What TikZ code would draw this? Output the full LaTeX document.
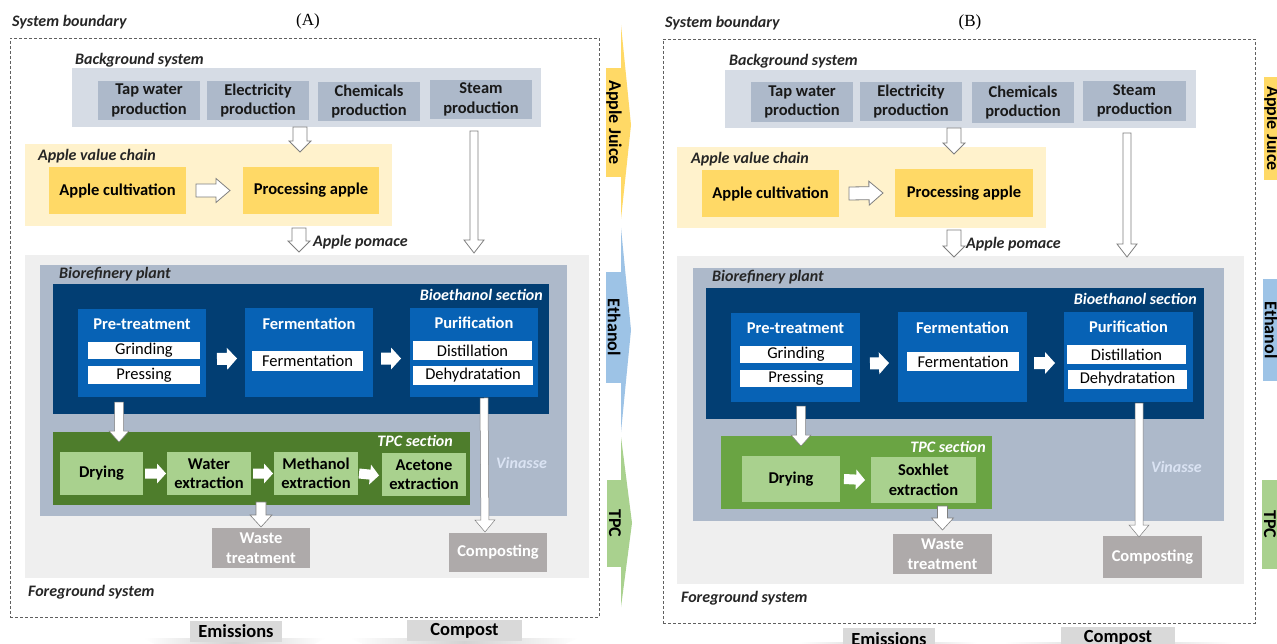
\documentclass[tikz,border=0pt]{standalone}
\usepackage{fontspec}
\setmainfont{Carlito}
\newfontfamily\serifA{Liberation Serif}
\usetikzlibrary{calc}
\definecolor{bgbox}{HTML}{D6DCE5}
\definecolor{bgsub}{HTML}{ADB9CA}
\definecolor{avc}{HTML}{FFF2CC}
\definecolor{apple}{HTML}{FFD966}
\definecolor{fgc}{HTML}{EFEFEF}
\definecolor{bioc}{HTML}{ADB9CA}
\definecolor{ethc}{HTML}{023E73}
\definecolor{bluc}{HTML}{0762B5}
\definecolor{tpcAc}{HTML}{4E7D2C}
\definecolor{tpcBc}{HTML}{6AA443}
\definecolor{tpcbox}{HTML}{A9D18E}
\definecolor{wastec}{HTML}{AEAAAA}
\definecolor{lbl}{HTML}{262626}
\definecolor{arrgray}{HTML}{7F7F7F}
\definecolor{ajc}{HTML}{FFD966}
\definecolor{etc}{HTML}{9DC3E6}
\definecolor{tpcc}{HTML}{A9D18E}
\definecolor{vin}{HTML}{DAE3F3}
\definecolor{outc}{HTML}{D9D9D9}
\newcommand\fs{\fontsize{16.5}{19.5}\selectfont}
\newcommand\fl{\fontsize{16}{19}\selectfont\bfseries\itshape}
\tikzset{
  base/.style={inner sep=0pt, outer sep=0pt, align=center, font=\fs},
  corners/.style n args={4}{minimum width={#3-#1}, minimum height={#4-#2}, at={({(#1+#3)/2},{(#2+#4)/2})}},
  bound/.style={base, draw=gray!75!black, dash pattern=on 3pt off 2pt, line width=0.8pt},
  bgbx/.style={base, fill=bgbox},
  bgsb/.style={base, fill=bgsub, text=black!90, font=\fs\bfseries},
  avcbx/.style={base, fill=avc},
  applebx/.style={base, fill=apple, font=\fs\bfseries},
  fgbx/.style={base, fill=fgc},
  biobx/.style={base, fill=bioc},
  ethbx/.style={base, fill=ethc},
  blubx/.style={base, fill=bluc},
  barbx/.style={base, fill=white},
  ttl/.style={base, text=white, font=\fs\bfseries},
  greenbx/.style={base, fill=tpcbox, font=\fs\bfseries},
  graybx/.style={base, fill=wastec, text=white, font=\fs\bfseries},
  lab/.style={inner sep=0pt, font=\fl, text=lbl},
  tagbx/.style={base, font=\fontsize{18}{20}\selectfont\bfseries, text=black},
  outbx/.style={base, fill=outc, font=\fontsize{18.5}{20}\selectfont\bfseries, text=black},
  hollow/.style={draw=arrgray, fill=white, line width=0.8pt},
  solidw/.style={fill=white},
  shaftw/.code={\def\blkS{#1}},
  headw/.code={\def\blkH{#1}},
  headl/.code={\def\blkL{#1}},
  blk/.style n args={3}{shaftw=#1, headw=#2, headl=#3, to path={
    let \p1=(\tikztostart), \p2=(\tikztotarget), \p3=($(\p2)!\blkL!(\p1)$) in
    ($(\p1)!\blkS!90:(\p2)$) -- ($(\p3)!\blkS!90:(\p2)$) -- ($(\p3)!\blkH!90:(\p2)$) -- (\p2)
    -- ($(\p3)!\blkH!-90:(\p2)$) -- ($(\p3)!\blkS!-90:(\p2)$) -- ($(\p1)!\blkS!-90:(\p2)$) -- cycle}},
}
\begin{document}
\begin{tikzpicture}[x=1pt,y=-1pt]
\clip (0,0) rectangle (1277,644);
\fill[white] (0,0) rectangle (1277,644);

% ================= PANEL A =================
\node[lab, anchor=west] (sbA) at (12,22) {System boundary};
\node[font=\serifA\fontsize{17}{20}\selectfont, inner sep=0pt] (tA) at (308,21) {(A)};
\node[bound, corners={10}{38}{599}{617}] (bdA) {};

\node[bgbx, corners={72}{68}{541}{127}] (bgA) {};
\node[lab, anchor=west] (bglA) at (75,60) {Background system};
\node[bgsb, corners={98}{81}{200}{120}] (tapA) {Tap water\\production};
\node[bgsb, corners={207}{81}{309}{120}] (elecA) {Electricity\\production};
\node[bgsb, corners={318}{82}{420}{121}] (chemA) {Chemicals\\production};
\node[bgsb, corners={430}{80}{532}{119}] (steamA) {Steam\\production};

\node[avcbx, corners={25}{144}{392}{226}] (avcA) {};
\node[lab, anchor=west] (avclA) at (38,156) {Apple value chain};
\node[applebx, corners={49}{167}{186}{214}] (cultA) {Apple cultivation};
\node[applebx, corners={243}{167}{379}{214}] (procA) {Processing apple};

\node[fgbx, corners={25}{255}{589}{578}] (fgA) {};
\node[lab, anchor=west] (fglA) at (28,592) {Foreground system};
\node[biobx, corners={40}{265}{567}{516}] (bioA) {};
\node[lab, anchor=west] (biolA) at (59,274) {Biorefinery plant};
\node[ethbx, corners={53}{284}{549}{414}] (ethA) {};
\node[lab, anchor=east, text=white] (ethlA) at (543,295) {Bioethanol section};

\node[blubx, corners={78}{309}{206}{397}] (preA) {};
\node[ttl] (pretA) at (142,324) {Pre-treatment};
\node[barbx, corners={88}{342}{200}{359}] (grindA) {Grinding};
\node[barbx, corners={88}{366}{200}{384}] (pressA) {Pressing};
\node[blubx, corners={245}{308}{373}{397}] (fermA) {};
\node[ttl] (fermtA) at (309,324) {Fermentation};
\node[barbx, corners={252}{351}{363}{371}] (fermbA) {Fermentation};
\node[blubx, corners={410}{308}{538}{397}] (purA) {};
\node[ttl] (purtA) at (474,323) {Purification};
\node[barbx, corners={413}{341}{532}{360}] (distA) {Distillation};
\node[barbx, corners={413}{366}{533}{385}] (dehyA) {Dehydratation};

\node[base, fill=tpcAc, corners={53}{432}{470}{505}] (tpcA) {};
\node[lab, anchor=east, text=white] (tpclA) at (453,441) {TPC section};
\node[greenbx, corners={60}{452}{143}{495}] (dryA) {Drying};
\node[greenbx, corners={167}{452}{251}{495}] (waterA) {Water\\extraction};
\node[greenbx, corners={274}{452}{358}{495}] (methA) {Methanol\\extraction};
\node[greenbx, corners={382}{453}{466}{496}] (acetA) {Acetone\\extraction};

\node[graybx, corners={212}{528}{310}{568}] (wasteA) {Waste\\treatment};
\node[graybx, corners={449}{533}{547}{572}] (compA) {Composting};
\node[lab, anchor=west, text=vin] (vinA) at (496,463) {Vinasse};
\node[lab, anchor=west] (pomA) at (313,242) {Apple pomace};

% arrows A
\path[hollow, blk={7pt}{11pt}{11pt}] ([xshift=-6.5pt]bgA.south) to ([xshift=-11pt,yshift=15pt]procA.north);
\path[hollow, blk={6.5pt}{12pt}{14pt}] ([xshift=10pt]cultA.east) to ([xshift=-13pt]procA.west);
\path[hollow, blk={7pt}{11pt}{11pt}] ([xshift=90.5pt,yshift=-2pt]avcA.south) to ([xshift=90.5pt,yshift=-26pt]avcA.south);
\path[hollow, blk={4pt}{10pt}{13pt}] ([xshift=-7pt,yshift=-12pt]steamA.south) to ([xshift=-7pt,yshift=-134pt]steamA.south);
\path[solidw, blk={6pt}{11pt}{10pt}] ([xshift=11pt,yshift=-6pt]preA.east) to ([xshift=-8pt,yshift=-6pt]fermA.west);
\path[solidw, blk={6pt}{11pt}{10pt}] ([xshift=8pt,yshift=-6pt]fermA.east) to ([xshift=-9pt,yshift=-6pt]purA.west);
\path[hollow, line width=0.5pt, blk={4.5pt}{10pt}{11pt}] ([xshift=-23pt,yshift=-5pt]preA.south) to ([xshift=-23pt,yshift=-45pt]preA.south);
\path[hollow, line width=0.5pt, blk={4pt}{10pt}{12pt}] ([xshift=10pt,yshift=-1pt]purA.south) to ([xshift=-13pt,yshift=1pt]compA.north);
\path[solidw, blk={5pt}{10pt}{9pt}] ([xshift=2pt]dryA.east) to ([xshift=-1pt]waterA.west);
\path[solidw, blk={5pt}{10pt}{9pt}] ([xshift=2pt]waterA.east) to ([xshift=-1pt]methA.west);
\path[solidw, blk={5pt}{10pt}{9pt}] ([xshift=1pt]methA.east) to ([xshift=-3pt,yshift=-1pt]acetA.west);
\path[hollow, line width=0.6pt, blk={5pt}{11pt}{12pt}] ([yshift=26pt]wasteA.north) to ([yshift=1pt]wasteA.north);

% outputs A
\shade[left color=white, right color=white, middle color=gray!35] (144,638) -- (325,638) -- (235,690) -- cycle;
\node[outbx, corners={190}{621}{282}{642}] (emA) {Emissions};
\shade[left color=white, right color=white, middle color=gray!35] (350,638) -- (578,638) -- (464,690) -- cycle;
\node[outbx, corners={407}{620}{522}{641}] (cpA) {Compost};

% product tags A
\fill[ajc] (621,25) -- (631,125) -- (621,219) -- cycle;
\node[tagbx, fill=ajc, minimum width=109, minimum height=16, rotate=-90] (ajA) at (614,122.5) {Apple Juice};
\fill[etc] (621,228) -- (631,330) -- (621,432) -- cycle;
\node[tagbx, fill=etc, minimum width=111, minimum height=16, rotate=-90] (etA) at (614,327.5) {Ethanol};
\fill[tpcc] (621,437) -- (632,523) -- (621,607) -- cycle;
\node[tagbx, fill=tpcc, minimum width=87, minimum height=16, rotate=-90] (tpA) at (615,523.5) {TPC};

% ================= PANEL B =================
\node[lab, anchor=west] (sbB) at (665,23) {System boundary};
\node[font=\serifA\fontsize{17}{20}\selectfont, inner sep=0pt] (tB) at (970,22) {(B)};
\node[bound, corners={663}{39}{1255}{623}] (bdB) {};

\node[bgbx, corners={725}{70}{1196}{128}] (bgB) {};
\node[lab, anchor=west] (bglB) at (729,61) {Background system};
\node[bgsb, corners={751}{82}{853}{122}] (tapB) {Tap water\\production};
\node[bgsb, corners={860}{82}{962}{121}] (elecB) {Electricity\\production};
\node[bgsb, corners={972}{82}{1074}{123}] (chemB) {Chemicals\\production};
\node[bgsb, corners={1083}{81}{1186}{121}] (steamB) {Steam\\production};

\node[avcbx, corners={677}{147}{1046}{228}] (avcB) {};
\node[lab, anchor=west] (avclB) at (691,159) {Apple value chain};
\node[applebx, corners={702}{170}{839}{217}] (cultB) {Apple cultivation};
\node[applebx, corners={895}{169}{1033}{217}] (procB) {Processing apple};

\node[fgbx, corners={677}{256}{1244}{584}] (fgB) {};
\node[lab, anchor=west] (fglB) at (681,598) {Foreground system};
\node[biobx, corners={693}{268}{1224}{521}] (bioB) {};
\node[lab, anchor=west] (biolB) at (712,277) {Biorefinery plant};
\node[ethbx, corners={706}{288}{1204}{419}] (ethB) {};
\node[lab, anchor=east, text=white] (ethlB) at (1197,299) {Bioethanol section};

\node[blubx, corners={731}{313}{860}{402}] (preB) {};
\node[ttl] (pretB) at (795.5,328) {Pre-treatment};
\node[barbx, corners={740}{346}{852}{363}] (grindB) {Grinding};
\node[barbx, corners={740}{370}{852}{387}] (pressB) {Pressing};
\node[blubx, corners={898}{312}{1027}{402}] (fermB) {};
\node[ttl] (fermtB) at (962.5,328) {Fermentation};
\node[barbx, corners={907}{352}{1019}{371}] (fermbB) {Fermentation};
\node[blubx, corners={1064}{312}{1193}{402}] (purB) {};
\node[ttl] (purtB) at (1128.5,327) {Purification};
\node[barbx, corners={1067}{345}{1186}{364}] (distB) {Distillation};
\node[barbx, corners={1068}{370}{1187}{389}] (dehyB) {Dehydratation};

\node[base, fill=tpcBc, corners={721}{436}{992}{509}] (tpcB) {};
\node[lab, anchor=east, text=white] (tpclB) at (986,447) {TPC section};
\node[greenbx, corners={742}{456}{840}{502}] (dryB) {Drying};
\node[greenbx, corners={871}{457}{976}{503}] (soxB) {Soxhlet\\extraction};

\node[graybx, corners={893}{534}{992}{574}] (wasteB) {Waste\\treatment};
\node[graybx, corners={1103}{536}{1202}{578}] (compB) {Composting};
\node[lab, anchor=east, text=vin] (vinB) at (1202,467) {Vinasse};
\node[lab, anchor=west] (pomB) at (966,244) {Apple pomace};

% arrows B
\path[hollow, blk={7pt}{11pt}{11pt}] ([xshift=-6.5pt]bgB.south) to ([xshift=-10pt,yshift=15pt]procB.north);
\path[hollow, blk={6.5pt}{12pt}{14pt}] ([xshift=10pt]cultB.east) to ([xshift=-12pt]procB.west);
\path[hollow, blk={7pt}{11pt}{11pt}] ([xshift=92.5pt,yshift=-2pt]avcB.south) to ([xshift=92.5pt,yshift=-29pt]avcB.south);
\path[hollow, blk={4pt}{10pt}{13pt}] ([xshift=-7.5pt,yshift=-12pt]steamB.south) to ([xshift=-7.5pt,yshift=-136pt]steamB.south);
\path[solidw, blk={6pt}{11pt}{10pt}] ([xshift=10pt,yshift=-6pt]preB.east) to ([xshift=-9pt,yshift=-6pt]fermB.west);
\path[solidw, blk={6pt}{11pt}{10pt}] ([xshift=7pt,yshift=-6pt]fermB.east) to ([xshift=-9pt,yshift=-6pt]purB.west);
\path[hollow, line width=0.5pt, blk={4.5pt}{10pt}{11pt}] ([xshift=5.5pt,yshift=-4pt]preB.south) to ([xshift=5.5pt,yshift=-44pt]preB.south);
\path[hollow, line width=0.5pt, blk={4pt}{10pt}{12pt}] ([xshift=10.5pt,yshift=-1pt]purB.south) to ([xshift=-13.5pt,yshift=-1pt]compB.north);
\path[solidw, blk={5pt}{10pt}{9pt}] ([xshift=4pt]dryB.east) to ([xshift=-6pt]soxB.west);
\path[hollow, line width=0.6pt, blk={5pt}{11pt}{12pt}] ([yshift=28pt]wasteB.north) to ([yshift=4pt]wasteB.north);

% outputs B
\shade[left color=white, right color=white, middle color=gray!35] (799,642) -- (977,642) -- (888,690) -- cycle;
\node[outbx, corners={843}{628}{935}{650}] (emB) {Emissions};
\shade[left color=white, right color=white, middle color=gray!35] (1004,642) -- (1233,642) -- (1118,690) -- cycle;
\node[outbx, corners={1061}{627}{1175}{648}] (cpB) {Compost};

% product tags B (cut by the page edge)
\node[tagbx, fill=ajc, minimum width=103, minimum height=16, rotate=-90] (ajB) at (1272,128.5) {Apple Juice};
\node[tagbx, fill=etc, minimum width=102, minimum height=16, rotate=-90] (etB) at (1271,330) {Ethanol};
\node[tagbx, fill=tpcc, minimum width=89, minimum height=16, rotate=-90] (tpB) at (1270,524.5) {TPC};
\end{tikzpicture}
\end{document}
